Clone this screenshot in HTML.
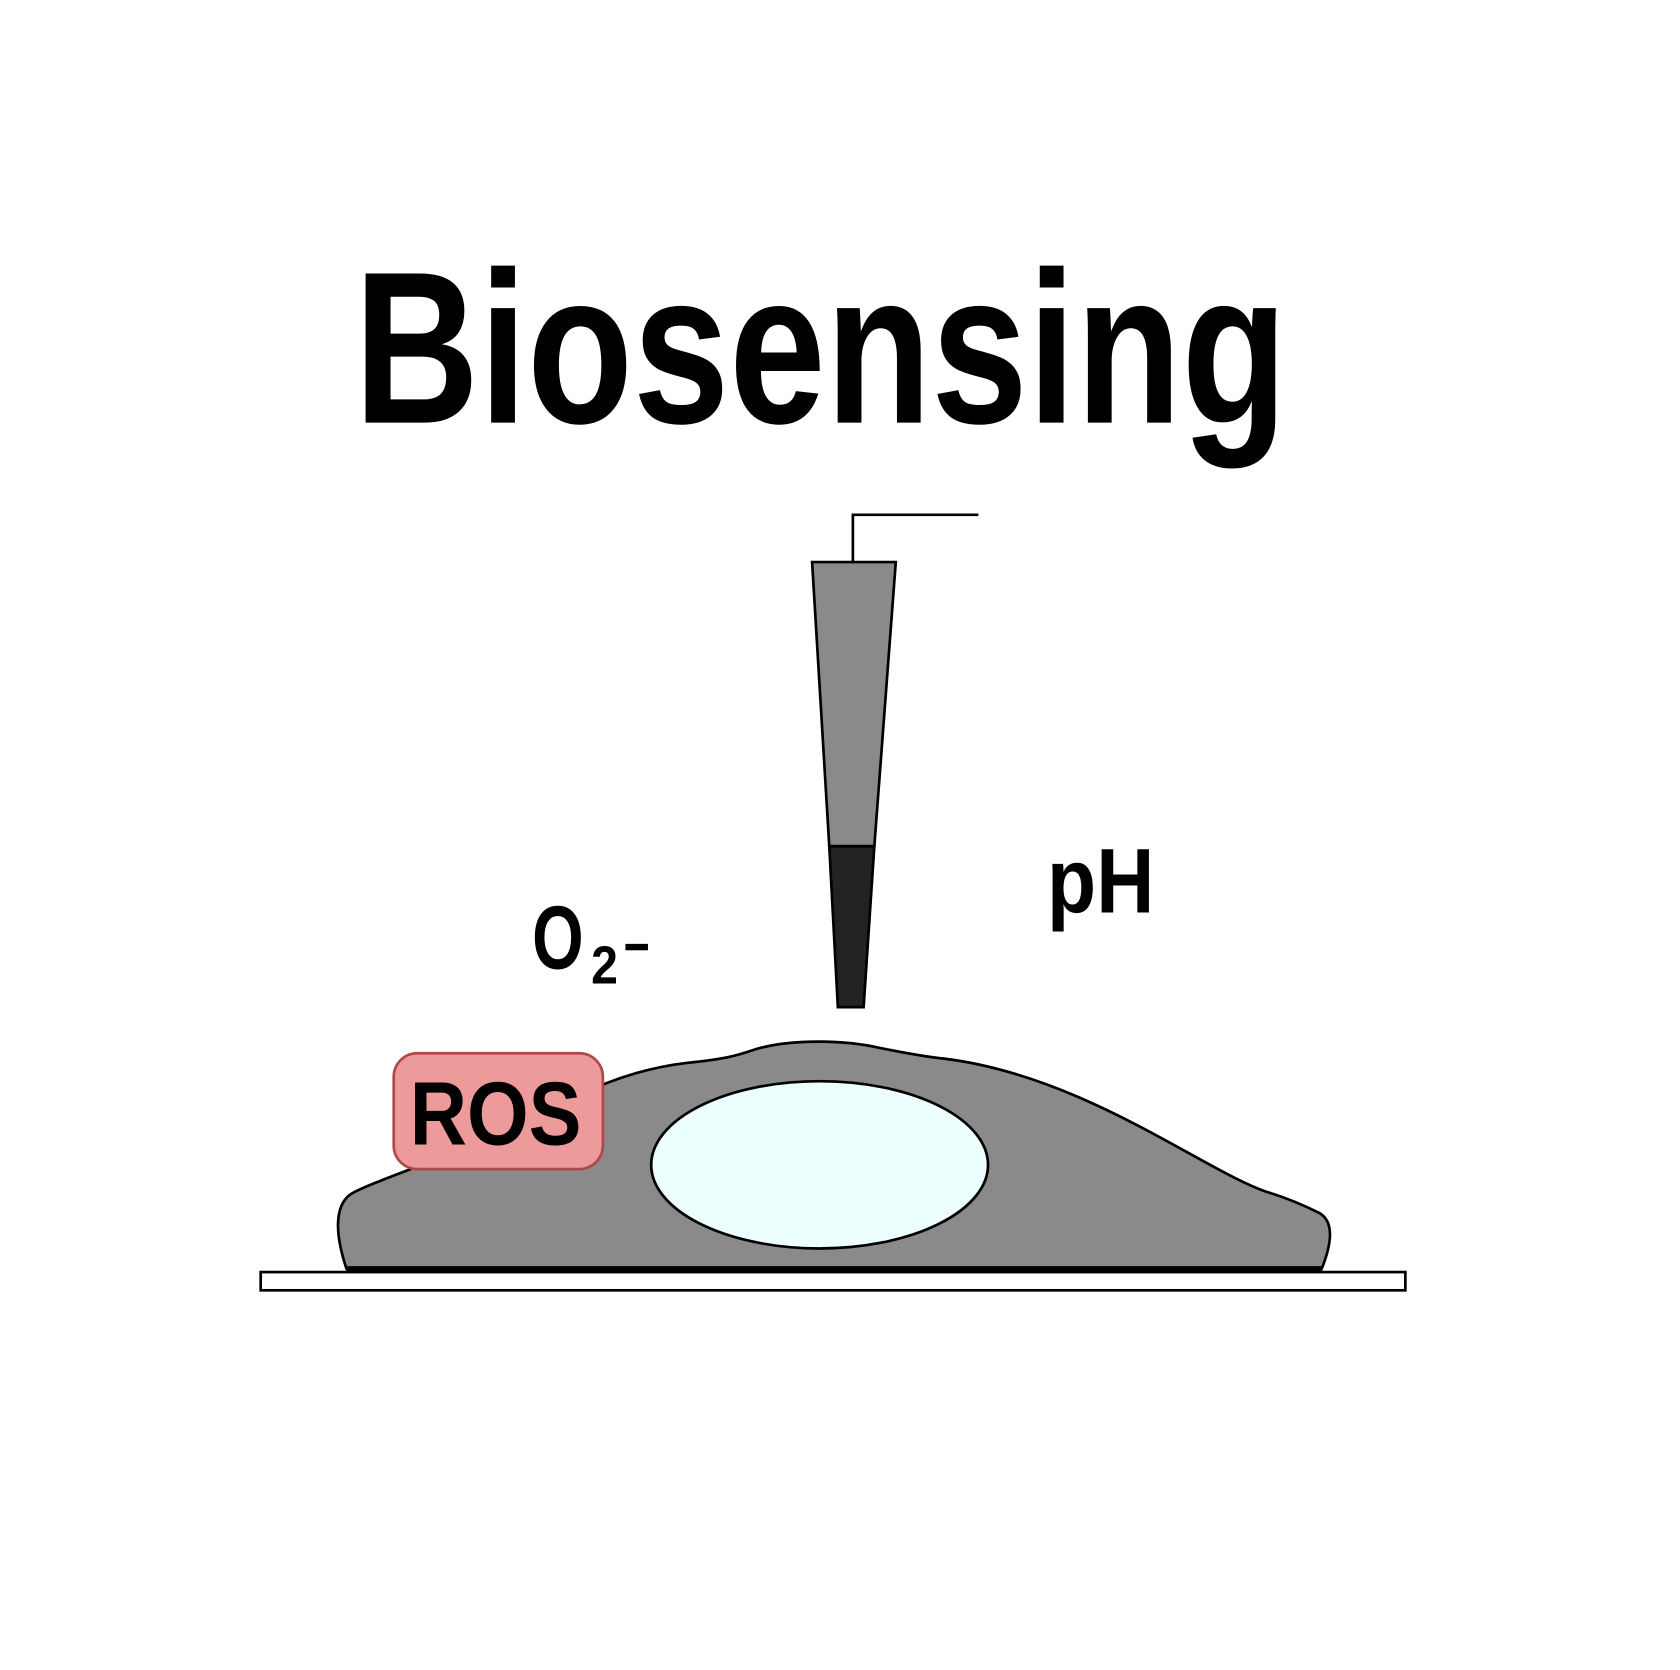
<!DOCTYPE html>
<html><head><meta charset="utf-8"><style>html,body{margin:0;padding:0;background:#fff}svg{display:block}</style></head>
<body>
<svg width="1680" height="1670" viewBox="0 0 1566 1557" preserveAspectRatio="none" xmlns="http://www.w3.org/2000/svg">
<rect width="1566" height="1557" fill="#fff"/>
<text x="330" y="394" font-family="Liberation Sans, sans-serif" font-weight="bold" font-size="202" textLength="870" lengthAdjust="spacingAndGlyphs">Biosensing</text>
<rect x="243" y="1186" width="1067" height="17" fill="#fff" stroke="#000" stroke-width="2.5"/>
<path d="M323,1183 C312,1150 312,1125 326,1114 C340,1104 420,1078 470,1055 C540,1020 580,998 640,991 C680,987 690,983 705,978 C740,968 790,970 820,977 C850,983 870,986 880,987 C1010,1003 1120,1090 1180,1111 C1200,1117 1220,1126 1230,1131 C1245,1140 1240,1163 1232,1183 Z" fill="#8a8a8a" stroke="#000" stroke-width="2.5"/>
<line x1="323" y1="1183" x2="1232" y2="1183" stroke="#000" stroke-width="5"/>
<ellipse cx="764" cy="1086" rx="157" ry="78" fill="#ecfefe" stroke="#000" stroke-width="2.5"/>
<rect x="367" y="982" width="195" height="108" rx="22" fill="#ec9a9a" stroke="#b04a4a" stroke-width="2.5"/>
<text x="382" y="1067" font-family="Liberation Sans, sans-serif" font-weight="bold" font-size="84" textLength="160" lengthAdjust="spacingAndGlyphs">ROS</text>
<text x="496" y="903" font-family="Liberation Sans, sans-serif" font-weight="bold" font-size="84" textLength="48" lengthAdjust="spacingAndGlyphs">O</text>
<text x="551" y="917" font-family="Liberation Sans, sans-serif" font-weight="bold" font-size="50" textLength="25" lengthAdjust="spacingAndGlyphs">2</text>
<rect x="583" y="880" width="21" height="6" fill="#000"/>
<text x="976" y="851" font-family="Liberation Sans, sans-serif" font-weight="bold" font-size="86" textLength="100" lengthAdjust="spacingAndGlyphs">pH</text>
<polyline points="795,523 795,480 912,480" fill="none" stroke="#000" stroke-width="2.5"/>
<polygon points="757,524 835,524 815,789 773,789" fill="#8a8a8a" stroke="#000" stroke-width="2.5"/>
<polygon points="773,789 815,789 805,939 781,939" fill="#222" stroke="#000" stroke-width="2.5"/>
</svg>
</body></html>
